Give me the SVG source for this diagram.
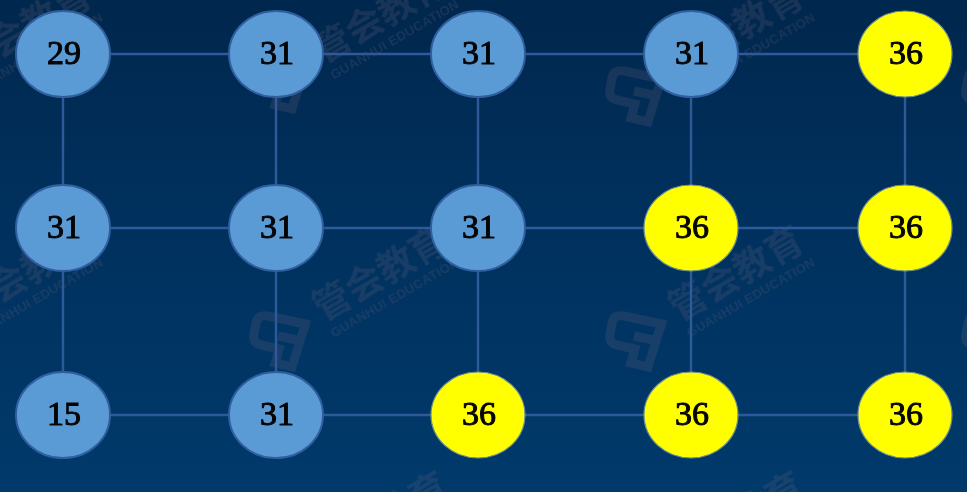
<svg xmlns="http://www.w3.org/2000/svg" width="967" height="492" viewBox="0 0 967 492">
<style>
.edge{stroke:#2f5a9a;stroke-width:2.4;fill:none}
.node ellipse{stroke-width:2}
.blue ellipse{fill:#5b9bd5;stroke:#2f5f9e}
.yellow ellipse{fill:#ffff00;stroke:#6f8f90;stroke-width:1.2}
.node text{font-family:"Liberation Serif","Times New Roman",serif;font-size:34px;fill:#050505;text-anchor:middle;stroke:#050505;stroke-width:1}
.wm{opacity:.2}
.wm text{fill:#7a6a80;font-family:"Noto Sans CJK SC","Noto Sans",sans-serif}
.wm .cn{font-size:37px;font-weight:700}
.wm .en{font-family:"Liberation Sans",sans-serif;font-size:13px;font-weight:700;letter-spacing:.3px}
.lg{fill:none;stroke:#7a6a80;stroke-width:9}
</style>
<defs>
<linearGradient id="bg" x1="0" y1="0" x2="0" y2="1">
<stop offset="0" stop-color="#00274d"/>
<stop offset=".35" stop-color="#002f5b"/>
<stop offset="1" stop-color="#003a6b"/>
</linearGradient>
<path id="logo" class="lg" d="M28-15 L-14-24 Q-24-26-26-17 L-28-6 Q-30 3-21 5 L-3 9 L-7 23 L10 27 L22-12 M-4-4 L20 1"/>
</defs>
<rect width="967" height="492" fill="url(#bg)"/>
<g id="watermarks" class="wm">
<g transform="translate(-74 95)"><use href="#logo"/><g transform="rotate(-30)"><text class="cn" x="44" y="5">管会教育</text><text class="en" x="46" y="24">GUANHUI EDUCATION</text></g></g>
<g transform="translate(282 82)"><use href="#logo"/><g transform="rotate(-30)"><text class="cn" x="44" y="5">管会教育</text><text class="en" x="46" y="24">GUANHUI EDUCATION</text></g></g>
<g transform="translate(638 95)"><use href="#logo"/><g transform="rotate(-30)"><text class="cn" x="44" y="5">管会教育</text><text class="en" x="46" y="24">GUANHUI EDUCATION</text></g></g>
<g transform="translate(994 95)"><use href="#logo"/></g>
<g transform="translate(-74 340)"><use href="#logo"/><g transform="rotate(-30)"><text class="cn" x="44" y="5">管会教育</text><text class="en" x="46" y="24">GUANHUI EDUCATION</text></g></g>
<g transform="translate(282 340)"><use href="#logo"/><g transform="rotate(-30)"><text class="cn" x="44" y="5">管会教育</text><text class="en" x="46" y="24">GUANHUI EDUCATION</text></g></g>
<g transform="translate(638 340)"><use href="#logo"/><g transform="rotate(-30)"><text class="cn" x="44" y="5">管会教育</text><text class="en" x="46" y="24">GUANHUI EDUCATION</text></g></g>
<g transform="translate(994 340)"><use href="#logo"/></g>
<g transform="translate(282 585)"><g transform="rotate(-30)"><text class="cn" x="44" y="5">管会教育</text></g></g>
<g transform="translate(638 585)"><g transform="rotate(-30)"><text class="cn" x="44" y="5">管会教育</text></g></g>
</g>
<g id="connectors">
<path class="edge" d="M63 54H905M63 228H905M63 415H905M63 54V415M276 54V415M478 54V415M691 54V415M905 54V415"/>
</g>
<g id="n29" class="node blue"><ellipse cx="63" cy="54" rx="47" ry="43"/><text x="64" y="64">29</text></g>
<g id="n31a" class="node blue"><ellipse cx="276" cy="54" rx="47" ry="43"/><text x="277" y="64">31</text></g>
<g id="n31b" class="node blue"><ellipse cx="478" cy="54" rx="47" ry="43"/><text x="479" y="64">31</text></g>
<g id="n31c" class="node blue"><ellipse cx="691" cy="54" rx="47" ry="43"/><text x="692" y="64">31</text></g>
<g id="n36a" class="node yellow"><ellipse cx="905" cy="54" rx="47" ry="43"/><text x="906" y="64">36</text></g>
<g id="n31d" class="node blue"><ellipse cx="63" cy="228" rx="47" ry="43"/><text x="64" y="238">31</text></g>
<g id="n31e" class="node blue"><ellipse cx="276" cy="228" rx="47" ry="43"/><text x="277" y="238">31</text></g>
<g id="n31f" class="node blue"><ellipse cx="478" cy="228" rx="47" ry="43"/><text x="479" y="238">31</text></g>
<g id="n36b" class="node yellow"><ellipse cx="691" cy="228" rx="47" ry="43"/><text x="692" y="238">36</text></g>
<g id="n36c" class="node yellow"><ellipse cx="905" cy="228" rx="47" ry="43"/><text x="906" y="238">36</text></g>
<g id="n15" class="node blue"><ellipse cx="63" cy="415" rx="47" ry="43"/><text x="64" y="425">15</text></g>
<g id="n31g" class="node blue"><ellipse cx="276" cy="415" rx="47" ry="43"/><text x="277" y="425">31</text></g>
<g id="n36d" class="node yellow"><ellipse cx="478" cy="415" rx="47" ry="43"/><text x="479" y="425">36</text></g>
<g id="n36e" class="node yellow"><ellipse cx="691" cy="415" rx="47" ry="43"/><text x="692" y="425">36</text></g>
<g id="n36f" class="node yellow"><ellipse cx="905" cy="415" rx="47" ry="43"/><text x="906" y="425">36</text></g>
</svg>
